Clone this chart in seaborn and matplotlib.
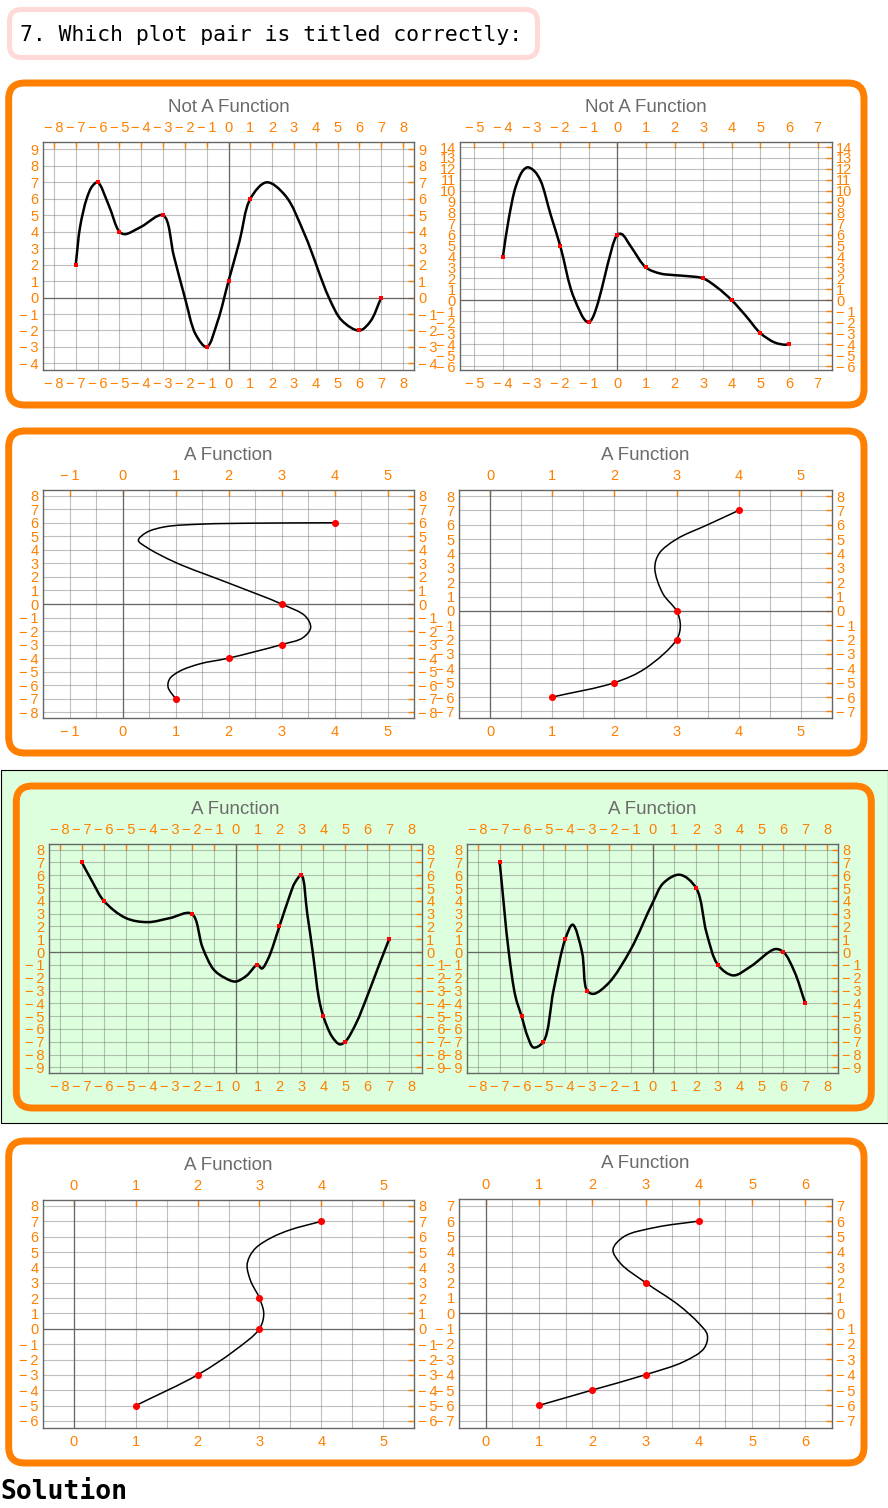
import numpy as np
import matplotlib
matplotlib.use("Agg")
import matplotlib.pyplot as plt
from matplotlib.path import Path
from matplotlib.patches import PathPatch, FancyBboxPatch, Rectangle
from matplotlib.ticker import FuncFormatter
import seaborn as sns

W, H = 888, 1508

# ---------------- data ----------------
titles = ["Not A Function", "Not A Function",
          "A Function", "A Function",
          "A Function", "A Function",
          "A Function", "A Function"]

# red sample points
p1l_x = [-7, -6, -5, -3, -1, 0, 1, 6, 7]
p1l_y = [2, 7, 4, 5, -3, 1, 6, -2, 0]
p1r_x = [-4, -2, -1, 0, 1, 3, 4, 5, 6]
p1r_y = [4, 5, -2, 6, 3, 2, 0, -3, -4]
p2l_x = [1, 2, 3, 3, 4]
p2l_y = [-7, -4, -3, 0, 6]
p2r_x = [1, 2, 3, 3, 4]
p2r_y = [-6, -5, -2, 0, 7]
p3l_x = [-7, -6, -2, 1, 2, 3, 4, 5, 7]
p3l_y = [7, 4, 3, -1, 2, 6, -5, -7, 1]
p3r_x = [-7, -6, -5, -4, -3, 2, 3, 6, 7]
p3r_y = [7, -5, -7, 1, -3, 5, -1, 0, -4]
p4l_x = [1, 2, 3, 3, 4]
p4l_y = [-5, -3, 0, 2, 7]
p4r_x = [1, 2, 3, 3, 4]
p4r_y = [-6, -5, -4, 2, 6]

# knots
c1l_x = [-7, -6.8, -6.5, -6.25, -6, -5.5, -5, -4.75, -4, -3, -2.5, -2, -1.5,
         -1, -0.5, 0, 0.5, 1, 1.75, 2.6, 3.5, 4.6, 5.2, 6, 6.5, 7]
c1l_y = [2, 4.3, 6.0, 6.75, 7, 5.65, 4, 3.85, 4.3, 5, 2.5, 0, -2.25,
         -3, -1.45, 1, 3.4, 6, 7, 6.2, 3.8, 0, -1.4, -2, -1.45, 0]
c1r_x = [-4, -3.8, -3.55, -3.3, -3.13, -2.9, -2.68, -2.33, -2, -1.52, -1, 0,
         0.15, 0.5, 1, 1.5, 2, 2.5, 3, 3.5, 4, 4.5, 5, 5.5, 5.85, 6]
c1r_y = [4, 7.4, 10.4, 11.85, 12.15, 11.8, 10.9, 7.8, 5, 0.25, -2, 6,
         6.05, 4.8, 3, 2.45, 2.3, 2.2, 2, 1.15, 0, -1.45, -3, -3.85, -4.05, -4]
c2l_x = [1, 0.86, 0.89, 1.08, 1.46, 2, 3, 3.4, 3.55, 3.45, 3, 2, 1, 0.45,
         0.3, 0.45, 0.8, 1.5, 2.5, 4]
c2l_y = [-7, -6.14, -5.53, -4.96, -4.42, -4, -3, -2.5, -1.75, -0.9, 0, 1.55,
         3.07, 4.2, 4.7, 5.28, 5.7, 5.9, 5.97, 6]
c2r_x = [1, 2, 2.5, 3, 3.06, 3, 2.78, 2.65, 2.72, 3, 3.5, 4]
c2r_y = [-6, -5, -4.0, -2, -1, 0, 1.2, 2.97, 4.0, 5.0, 6.0, 7]
c3l_x = [-7, -6.5, -6, -5, -4, -3, -2, -1.5, -1, -0.5, 0, 0.5, 1, 1.2, 1.5,
         2, 2.5, 2.7, 3, 3.27, 3.52, 3.8, 4, 4.4, 4.75, 5, 5.5, 6, 6.5, 7]
c3l_y = [7, 5.42, 4, 2.66, 2.34, 2.65, 3, 0.35, -1.35, -2.0, -2.3, -1.85, -1,
         -1.28, -0.47, 2, 4.55, 5.4, 6, 3.0, 0, -3.6, -5, -6.6, -7.2, -7,
         -5.55, -3.46, -1.2, 1]
c3r_x = [-7, -6.59, -6.28, -6, -5.72, -5.45, -5, -4.53, -4, -3.66, -3.23, -3,
         -2.7, -2, -1, 0, 0.5, 1.25, 2, 2.48, 3, 3.7, 4.5, 5.61, 6, 6.5, 7]
c3r_y = [7, 0.05, -3.46, -5, -6.6, -7.45, -7, -2.94, 1, 2.14, 0, -3,
         -3.26, -2.4, 0.2, 3.83, 5.39, 6.04, 5, 1.48, -1, -1.82, -1.12, 0.23,
         0, -1.51, -4]
c4l_x = [1, 2, 2.58, 3, 3.07, 3, 2.86, 2.8, 2.84, 2.95, 3.2, 3.5, 4]
c4l_y = [-5, -3, -1.47, 0, 0.98, 2, 3.1, 4.1, 4.7, 5.3, 5.95, 6.45, 7]
c4r_x = [1, 2, 3, 3.72, 4.1, 4.16, 4.0, 3.62, 3, 2.53, 2.39, 2.6, 3.2, 4]
c4r_y = [-6, -5, -4, -3.15, -2.28, -1.41, -0.65, 0.54, 2, 3.25, 4.15, 5.0,
         5.6, 6]

# ---------------- layout (pixels) ----------------
ORANGE = "#ff8000"
GREEN = "#ddffdd"

plots = [
    # (points, curve, rect l/t/r/b, xlim, ylim, half grid, marker)
    ((p1l_x, p1l_y), (c1l_x, c1l_y), (43, 142, 414, 370), (-8.5, 8.5), (-4.4, 9.45), False, "s"),
    ((p1r_x, p1r_y), (c1r_x, c1r_y), (460, 142, 832, 370), (-5.5, 7.5), (-6.36, 14.46), False, "s"),
    ((p2l_x, p2l_y), (c2l_x, c2l_y), (43, 490, 414, 718), (-1.5, 5.5), (-8.42, 8.42), True, "o"),
    ((p2r_x, p2r_y), (c2r_x, c2r_y), (459, 490, 832, 718), (-0.5, 5.5), (-7.46, 8.42), True, "o"),
    ((p3l_x, p3l_y), (c3l_x, c3l_y), (49, 844, 422, 1073), (-8.5, 8.5), (-9.44, 8.44), False, "s"),
    ((p3r_x, p3r_y), (c3r_x, c3r_y), (467, 844, 838, 1073), (-8.5, 8.5), (-9.44, 8.44), False, "s"),
    ((p4l_x, p4l_y), (c4l_x, c4l_y), (43, 1200, 414, 1428), (-0.5, 5.5), (-6.46, 8.39), True, "o"),
    ((p4r_x, p4r_y), (c4r_x, c4r_y), (459, 1199, 832, 1428), (-0.5, 6.5), (-7.47, 7.44), True, "o"),
]


def smooth_path(ax, xs, ys, alpha=0.5):
    # centripetal Catmull-Rom through the knots, drawn as bezier segments
    pts = ax.transData.transform(np.column_stack([xs, ys]))
    ext = np.vstack([2 * pts[0] - pts[1], pts, 2 * pts[-1] - pts[-2]])
    verts = [pts[0]]
    codes = [Path.MOVETO]
    for i in range(1, len(ext) - 2):
        p0, p1, p2, p3 = ext[i - 1], ext[i], ext[i + 1], ext[i + 2]
        d1 = max(np.linalg.norm(p1 - p0), 1e-6) ** alpha
        d2 = max(np.linalg.norm(p2 - p1), 1e-6) ** alpha
        d3 = max(np.linalg.norm(p3 - p2), 1e-6) ** alpha
        b1 = (d1**2 * p2 - d2**2 * p0 + (2 * d1**2 + 3 * d1 * d2 + d2**2) * p1) / (3 * d1 * (d1 + d2))
        b2 = (d3**2 * p1 - d2**2 * p3 + (2 * d3**2 + 3 * d3 * d2 + d2**2) * p2) / (3 * d3 * (d3 + d2))
        verts += [b1, b2, p2]
        codes += [Path.CURVE4] * 3
    verts = ax.transData.inverted().transform(np.array(verts))
    return Path(verts, codes)


def tick_fmt(v, pos):
    v = int(round(v))
    return "\u2212\u2009%d" % -v if v < 0 else "%d" % v


sns.set_style("white")
plt.rcParams["font.family"] = ["Liberation Sans", "DejaVu Sans"]

fig = plt.figure(figsize=(W / 100, H / 100), dpi=100)
fig.patch.set_facecolor("white")

bg = fig.add_axes([0, 0, 1, 1])
bg.set_xlim(0, W)
bg.set_ylim(H, 0)
bg.axis("off")
bg.set_zorder(0)

# header
bg.add_patch(FancyBboxPatch((9.5, 9.5), 528, 48, boxstyle="round,pad=0,rounding_size=12",
                            facecolor="white", edgecolor="#ffd8d8", linewidth=3.6))
bg.text(20, 35, "7. Which plot pair is titled correctly:", family="DejaVu Sans Mono",
        fontsize=15.4, va="center", ha="left", color="black")

# highlighted answer background
bg.add_patch(Rectangle((0.5, 770), 887, 353, facecolor=GREEN, edgecolor="black", linewidth=0.8))

boxes = [((8.7, 83), (864, 405), "white"),
         ((8.7, 431), (864, 753), "white"),
         ((16.3, 786), (871.3, 1108), GREEN),
         ((8.7, 1141), (864, 1463), "white")]
for (x0, y0), (x1, y1), fc in boxes:
    bg.add_patch(FancyBboxPatch((x0, y0), x1 - x0, y1 - y0,
                                boxstyle="round,pad=0,rounding_size=16",
                                facecolor=fc, edgecolor=ORANGE, linewidth=5))

bg.text(0, 1492, "Solution", family="DejaVu Sans Mono", fontweight="bold",
        fontsize=19, va="center", ha="left", color="black")

for k, (pts, crv, rect, xl, yl, half, mk) in enumerate(plots):
    l, t, r, b = rect
    ax = fig.add_axes([l / W, 1 - b / H, (r - l) / W, (b - t) / H])
    ax.set_zorder(1)
    ax.set_facecolor(GREEN if k in (4, 5) else "white")
    ax.set_xlim(*xl)
    ax.set_ylim(*yl)

    ax.set_xticks(np.arange(np.ceil(xl[0]), np.floor(xl[1]) + 1))
    ax.set_yticks(np.arange(np.ceil(yl[0]), np.floor(yl[1]) + 1))
    ax.xaxis.set_major_formatter(FuncFormatter(tick_fmt))
    ax.yaxis.set_major_formatter(FuncFormatter(tick_fmt))
    if half:
        ax.set_xticks(np.arange(np.ceil(xl[0] * 2) / 2, xl[1], 0.5), minor=True)
        ax.grid(True, which="minor", axis="x", color=(0.45, 0.45, 0.45), alpha=0.45, lw=0.8)
    ax.grid(True, which="major", color=(0.45, 0.45, 0.45), alpha=0.45, lw=0.8)
    ax.tick_params(which="minor", length=0)
    ax.tick_params(which="major", direction="in", length=4, width=1, color=ORANGE,
                   labelcolor=ORANGE, labelsize=10.5, top=True, right=True,
                   labeltop=True, labelright=True)
    ax.tick_params(axis="x", pad=5)
    ax.tick_params(axis="y", pad=3)
    for s in ax.spines.values():
        s.set_color("#666666")
        s.set_linewidth(1)
        s.set_visible(True)
    ax.axhline(0, color="#666666", lw=0.9, zorder=1.5)
    ax.axvline(0, color="#666666", lw=0.9, zorder=1.5)

    thick = 1.8 if mk == "s" else 1.1
    ax.add_patch(PathPatch(smooth_path(ax, crv[0], crv[1]), facecolor="none",
                           edgecolor="black", lw=thick, zorder=3, capstyle="round"))
    sns.scatterplot(x=pts[0], y=pts[1], ax=ax, color="red", marker=mk,
                    s=12 if mk == "s" else 26, linewidth=0, zorder=4)

    ax.text(0.5, 1 + 35 / (b - t), titles[k], transform=ax.transAxes, ha="center",
            va="center", fontsize=13.5, color="#6b6b6b")

fig.savefig("out.png", dpi=100, facecolor="white")
